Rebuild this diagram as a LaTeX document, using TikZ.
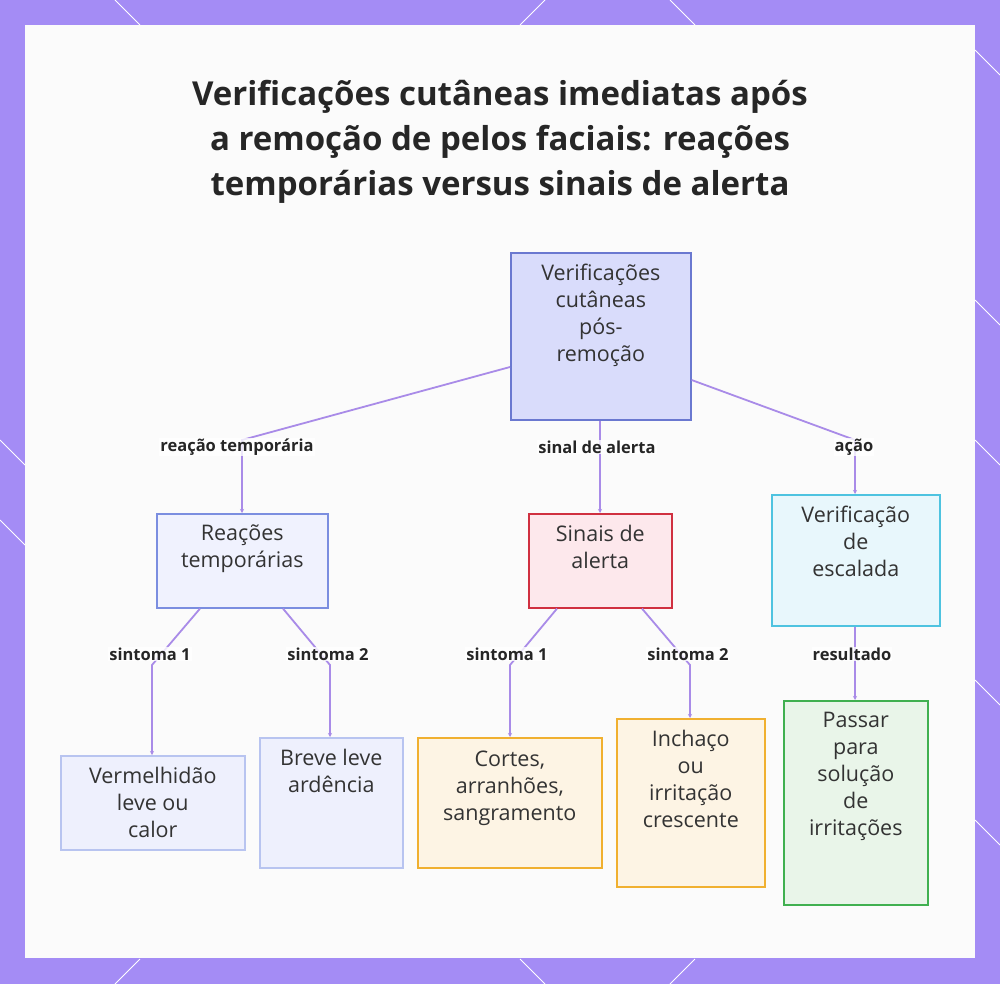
\documentclass[tikz,border=0pt]{standalone}
\usepackage{fontspec}
\setmainfont{Open Sans}
\usetikzlibrary{arrows.meta}
\definecolor{bord}{HTML}{A48CF5}
\definecolor{edge}{HTML}{A98BE8}
\definecolor{rD}{HTML}{6A78D0}\definecolor{rF}{HTML}{D9DCFB}
\definecolor{tD}{HTML}{7B8EE0}\definecolor{tF}{HTML}{F0F2FE}
\definecolor{sD}{HTML}{D03040}\definecolor{sF}{HTML}{FDE8EC}
\definecolor{eD}{HTML}{4EC3E0}\definecolor{eF}{HTML}{E8F7FC}
\definecolor{lD}{HTML}{B8C4F0}\definecolor{lF}{HTML}{EEF0FD}
\definecolor{oD}{HTML}{F0B030}\definecolor{oF}{HTML}{FDF4E4}
\definecolor{gD}{HTML}{40B050}\definecolor{gF}{HTML}{E9F5E9}
\tikzset{x=1pt,y=-1pt,
 box/.style={draw,line width=1.6pt,inner sep=0pt,anchor=north west},
 lbl/.style={font=\fontsize{16.5}{18}\selectfont\bfseries,text=black!85,fill=white,fill opacity=0.8,text opacity=1,inner sep=1pt},
 con/.style={edge,line width=1.8pt,-{Stealth[length=4pt,width=4pt]}},
 ttl/.style={font=\fontsize{33}{45}\selectfont\bfseries,align=center,text=black!85}}
\newcommand\bx[7]{%
 \node[box,#6,minimum width={#4-#2},minimum height={#5-#3}] (#1) at (#2,#3)
 {\parbox[t][\dimexpr(#5pt-#3pt)\relax][t]{\dimexpr(#4pt-#2pt-6pt)\relax}{\centering\fontsize{21.5}{27}\selectfont\color{black!80}\vspace{11pt}#7}};}
\begin{document}
\begin{tikzpicture}
\useasboundingbox (0,0) rectangle (1000,984);
\fill[bord] (0,0) rectangle (1000,984);
\foreach \a/\b/\c/\d in {115/0/140/25, 520/25/545/0, 670/0/695/25, 975/50/1000/75, 975/300/1000/325, 975/440/1000/465, 975/680/1000/705, 975/820/1000/845, 0/440/25/465, 0/520/25/545, 115/984/140/959, 520/959/545/984, 670/984/695/959}
 \draw[white,line width=1pt] (\a,\b)--(\c,\d);
\fill[white!97!gray] (25,25) rectangle (975,958);
\node[ttl] (title) at (500,142) {Verificações cutâneas imediatas após\\a remoção de pelos faciais: reações\\temporárias versus sinais de alerta};
\bx{root}{510}{252}{690}{419}{draw=rD,fill=rF}{Verificações\\cutâneas\\pós-\\remoção}
\bx{rt}{156}{513}{327}{607}{draw=tD,fill=tF}{Reações\\temporárias}
\bx{sa}{528}{513}{671}{607}{draw=sD,fill=sF}{Sinais de\\alerta}
\bx{ve}{771}{494}{939}{625}{draw=eD,fill=eF}{Verificação\\de\\escalada}
\bx{vl}{60}{755}{244}{849}{draw=lD,fill=lF}{Vermelhidão\\leve ou\\calor}
\bx{br}{259}{737}{402}{867}{draw=lD,fill=lF}{Breve leve\\ardência}
\bx{co}{417}{737}{601}{867}{draw=oD,fill=oF}{\vspace{2pt}Cortes,\\arranhões,\\sangramento}
\bx{in}{616}{718}{764}{886}{draw=oD,fill=oF}{Inchaço\\ou\\irritação\\crescente}
\bx{pa}{783}{700}{927}{904}{draw=gD,fill=gF}{Passar\\para\\solução\\de\\irritações}
\coordinate (c1) at (242,440); \coordinate (c3) at (855,440);
\coordinate (d1) at (152,665); \coordinate (d2) at (330,665);
\coordinate (d3) at (510,665); \coordinate (d4) at (690,665);
\draw[con] (root.west |- 0,367) -- (c1) -- (rt.north -| c1);
\draw[con] (root.south -| 600,0) -- (sa.north -| 600,0);
\draw[con] (root.east |- 0,380) -- (c3) -- (ve.north -| c3);
\draw[con] (rt.south -| 200,0) -- (d1) -- (vl.north -| d1);
\draw[con] (rt.south -| 283,0) -- (d2) -- (br.north -| d2);
\draw[con] (sa.south -| 557,0) -- (d3) -- (co.north -| d3);
\draw[con] (sa.south -| 642,0) -- (d4) -- (in.north -| d4);
\draw[con] (ve.south -| 855,0) -- (pa.north -| 855,0);
\node[lbl] (l1) at (237,447) {reação temporária};
\node[lbl] (l2) at (597,447) {sinal de alerta};
\node[lbl] (l3) at (854,447) {ação};
\node[lbl] (l4) at (150,654) {sintoma 1};
\node[lbl] (l5) at (328,654) {sintoma 2};
\node[lbl] (l6) at (507,654) {sintoma 1};
\node[lbl] (l7) at (688,654) {sintoma 2};
\node[lbl] (l8) at (852,654) {resultado};
\end{tikzpicture}
\end{document}
